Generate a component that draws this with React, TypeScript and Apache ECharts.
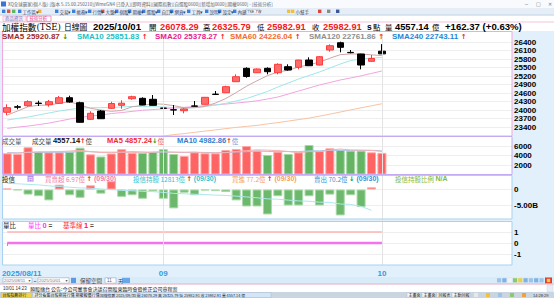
import React, { useEffect, useRef } from 'react';
import * as echarts from 'echarts';

// ---------------- data ----------------
const dates = [
  '2025/08/11', '2025/08/12', '2025/08/13', '2025/08/14', '2025/08/15',
  '2025/08/18', '2025/08/19', '2025/08/20', '2025/08/21', '2025/08/22',
  '2025/08/25', '2025/08/26', '2025/08/27', '2025/08/28', '2025/08/29',
  '2025/09/01', '2025/09/02', '2025/09/03', '2025/09/04', '2025/09/05',
  '2025/09/08', '2025/09/09', '2025/09/10', '2025/09/11', '2025/09/12',
  '2025/09/15', '2025/09/16', '2025/09/17', '2025/09/18', '2025/09/19',
  '2025/09/22', '2025/09/23', '2025/09/24', '2025/09/25', '2025/09/26',
  '2025/09/30', '2025/10/01',
];
const opens = [23926, 24120, 24158, 24250, 24193, 24242, 24439, 24263, 23679, 23971, 24066, 24172, 24404, 24418, 24383, 24075, 24015, 23982, 24150, 24207, 24565, 24615, 25003, 25474, 25319, 25474, 25319, 25531, 25509, 25766, 25590, 26118, 26375, 26035, 25978, 25720, 26078.29];
const highs = [24207, 24182, 24348, 24335, 24359, 24499, 24510, 24299, 23961, 24006, 24299, 24348, 24510, 24453, 24534, 24277, 24182, 24066, 24323, 24465, 24675, 24862, 25263, 25509, 25470, 25509, 25650, 25615, 25770, 25861, 25905, 26319, 26411, 26118, 25985, 25942, 26325.79];
const lows = [23820, 24031, 24123, 24147, 24123, 24218, 24263, 23560, 23654, 23690, 24042, 24052, 24369, 24172, 24165, 23830, 23830, 23890, 24123, 24200, 24534, 24610, 25000, 25143, 25310, 25263, 25263, 25390, 25439, 25555, 25575, 26059, 26037, 26002, 25439, 25707, 25982.91];
const closes = [24088, 24105, 24299, 24235, 24299, 24439, 24288, 23574, 23890, 23700, 24235, 24245, 24475, 24185, 24170, 24066, 24006, 24042, 24140, 24453, 24555, 24827, 25179, 25185, 25450, 25355, 25615, 25414, 25766, 25566, 25883, 26270, 26213, 26025, 25590, 25820.54, 25982.91];

const sma5 = [23830, 23971, 24123, 24172, 24182, 24242, 24299, 24182, 24066, 24006, 23960, 23990, 24120, 24170, 24230, 24210, 24160, 24090, 24085, 24135, 24250, 24410, 24620, 24845, 25035, 25215, 25345, 25405, 25520, 25600, 25690, 25830, 25955, 25980, 25975, 25950, 25920.87];
const sma10 = [23654, 23707, 23760, 23830, 23901, 23971, 24024, 24077, 24088, 24088, 24094, 24112, 24130, 24130, 24123, 24112, 24094, 24066, 24094, 24123, 24182, 24242, 24323, 24411, 24534, 24658, 24816, 24957, 25098, 25221, 25344, 25485, 25626, 25749, 25802, 25837, 25851.83];
const sma20 = [23358, 23404, 23440, 23492, 23545, 23616, 23687, 23747, 23792, 23828, 23881, 23916, 23958, 23997, 24022, 24050, 24075, 24100, 24128, 24160, 24188, 24216, 24251, 24287, 24329, 24393, 24463, 24569, 24675, 24781, 24887, 24975, 25063, 25134, 25210, 25295, 25378.27];
const sma60 = [22460, 22500, 22545, 22590, 22630, 22675, 22720, 22760, 22800, 22840, 22880, 22925, 22965, 23005, 23045, 23087, 23140, 23175, 23221, 23263, 23305, 23351, 23394, 23429, 23464, 23517, 23563, 23616, 23669, 23722, 23790, 23860, 23935, 24010, 24085, 24155, 24226.04];
const sma120Last = 22761.86;
const sma240Last = 22743.11;

const volumes = [4463, 4315, 5726, 4799, 4673, 4673, 4799, 5641, 4252, 3789, 4420, 5326, 4526, 4568, 4736, 5326, 4315, 3894, 4673, 4463, 4463, 5157, 5368, 5999, 5010, 4105, 4799, 4315, 4673, 6210, 4947, 5515, 5157, 5010, 5010, 4673, 4557.14];
const volMa5 = [4520, 4480, 4700, 4760, 4790, 4830, 4930, 5100, 4810, 4630, 4590, 4700, 4660, 4530, 4720, 4790, 4690, 4670, 4700, 4540, 4560, 4590, 4830, 5030, 5190, 5120, 5050, 4840, 4580, 4820, 4790, 5130, 5360, 5170, 5130, 5060, 4857.24];
const volMa10 = [4600, 4560, 4620, 4650, 4680, 4700, 4710, 4830, 4800, 4710, 4710, 4700, 4810, 4750, 4680, 4700, 4700, 4650, 4690, 4640, 4580, 4640, 4740, 4790, 4960, 4850, 4820, 4840, 4810, 5000, 4990, 5090, 5100, 5070, 5070, 5090, 4982.86];

// investment trust net buy/sell (億) and holdings (億)
const trustNet = [3, -2, -16, -21, -34, 15, -18, -26, 13, -13, 26, -23, -18, -29, -6, -29, -59, -10, -18, -3, -5, -8, -34, -53, -53, -78, -21, -50, -50, -21, -50, -16, -81, -18, -55, 6.97, null];
const trustHold = [13207, 13200, 13192, 13184, 13170, 13160, 13150, 13140, 13135, 13125, 13115, 13105, 13098, 13090, 13085, 13075, 13060, 13055, 13048, 13042, 13035, 13030, 13020, 13008, 12996, 12980, 12975, 12962, 12950, 12945, 12932, 12928, 12905, 12900, 12870, 12813, null];

const volRatio = [0, 0, 0, 0, 0, 0, 0, 0, 0, 0, 0, 0, 0, 0, 0, 0, 0, 0, 0, 0, 0, 0, 0, 0, 0, 0, 0, 0, 0, 0, 0, 0, 0, 0, 0, 0, 0];
const baseLine = [1, 1, 1, 1, 1, 1, 1, 1, 1, 1, 1, 1, 1, 1, 1, 1, 1, 1, 1, 1, 1, 1, 1, 1, 1, 1, 1, 1, 1, 1, 1, 1, 1, 1, 1, 1, 1];

const priceTicks = [23400, 23700, 24000, 24300, 24600, 24900, 25200, 25500, 25800, 26100, 26400];
const volTicks = [2000, 4000, 6000];
const PAD_SLOTS = 12;

// ---------------- styling helpers ----------------
const CJK = "'Noto Sans CJK TC','Noto Sans CJK SC',sans-serif";
const LAT = "'Liberation Sans',Arial,sans-serif";
const ARW = "'DejaVu Sans',sans-serif";
const RED = '#f21b1b';
const GREEN = '#139a13';

function txt(x: number, y: number, text: string, fill: string, size: number, o: any = {}) {
  return {
    type: 'text', x, y, z: 50, silent: true,
    style: {
      text, fill, fontSize: size, fontFamily: o.family || CJK,
      fontWeight: o.bold ? 'bold' : 'normal', align: o.align || 'left', verticalAlign: 'middle',
      rich: o.rich,
    },
  };
}
function rect(x: number, y: number, w: number, h: number, fill: string | null, stroke: string | null = null, z = -5, lw = 1) {
  return {
    type: 'rect', z, silent: true,
    shape: { x, y, width: w, height: h },
    style: { fill: fill || 'none', stroke: stroke || 'none', lineWidth: lw },
  };
}
function hline(x1: number, x2: number, y: number, color: string, z = 45) {
  return { type: 'line', z, silent: true, shape: { x1, y1: y, x2, y2: y }, style: { stroke: color, lineWidth: 1 } };
}
const tok = (fill: string, size: number, bold = false, family = LAT) => ({ fill, fontSize: size, fontWeight: bold ? 'bold' : 'normal', fontFamily: family });

function buildOption() {
  const n = dates.length;
  const last = n - 1;
  const cats = [...dates, ...Array.from({ length: PAD_SLOTS }, (_, k) => `_pad${k + 1}`)];
  const monthStarts = dates
    .map((d, i) => (i === 0 || d.slice(5, 7) !== dates[i - 1].slice(5, 7) ? i : -1))
    .filter((i) => i >= 0);
  const isMonthStart = (i: number) => monthStarts.indexOf(i) >= 0;
  const monthLines = monthStarts.slice(1).map((i) => ({ xAxis: dates[i] }));
  const markLine = {
    silent: true, symbol: 'none', label: { show: false }, animation: false,
    lineStyle: { color: '#e3e3e3', type: 'solid', width: 1 }, data: monthLines,
  };

  const grids = [
    { left: 2, right: 42, top: 33.5, height: 102.25 },
    { left: 2, right: 42, top: 136.5, height: 38 },
    { left: 2, right: 42, top: 173.5, height: 48 },
    { left: 2, right: 42, top: 221, height: 44 },
  ].map((g) => ({ ...g, outerBoundsMode: 'none', containLabel: false, show: false }));

  const xAxis = grids.map((_, gi) => {
    const show = gi === 3;
    return {
      type: 'category', gridIndex: gi, data: cats, boundaryGap: true,
      axisLine: { show: false },
      axisTick: { show, interval: (i: number) => isMonthStart(i), alignWithLabel: true, length: 3, lineStyle: { color: '#6aaee6' } },
      axisLabel: {
        show, interval: (i: number) => isMonthStart(i), margin: 4,
        color: '#3a98e2', fontWeight: 'bold', fontSize: 8, fontFamily: LAT,
        formatter: (v: string, i: number) => (i === 0 ? `{f|${v}}` : v.slice(5, 7)),
        rich: { f: { padding: [0, 0, 0, 29], color: '#3a98e2', fontWeight: 'bold', fontSize: 8, fontFamily: LAT } },
      },
      splitLine: { show: false },
    };
  });

  const labelStyle = { color: '#000', fontWeight: 'bold', fontSize: 8, fontFamily: LAT, margin: 2 };
  const faint = '#eeeeee';
  const clear = 'rgba(0,0,0,0)';

  const yAxis = [
    {
      type: 'value', gridIndex: 0, position: 'right', min: 23100, max: 26700, interval: 300,
      axisLine: { show: false }, axisTick: { show: false },
      axisLabel: { ...labelStyle, padding: [4, 0, 0, 0], formatter: (v: number) => (priceTicks.indexOf(v) >= 0 ? String(v) : '') },
      splitLine: { show: true, lineStyle: { width: 1, color: [clear, ...priceTicks.map(() => faint), clear] } },
    },
    {
      type: 'value', gridIndex: 1, position: 'right', min: 0, max: 8000, interval: 2000,
      axisLine: { show: false }, axisTick: { show: false },
      axisLabel: { ...labelStyle, formatter: (v: number) => (volTicks.indexOf(v) >= 0 ? String(v) : '') },
      splitLine: { show: true, lineStyle: { width: 1, color: [clear, faint, faint, faint, clear] } },
    },
    {
      type: 'value', gridIndex: 2, position: 'right', min: -100, max: 50, interval: 50,
      axisLine: { show: false }, axisTick: { show: false },
      axisLabel: { ...labelStyle, formatter: (v: number) => (v === 0 ? '0' : v === -50 ? '-5.00B' : '') },
      splitLine: { show: true, lineStyle: { width: 1, color: [clear, faint, faint, clear] } },
    },
    { type: 'value', gridIndex: 2, min: 12650, max: 13350, show: false, splitLine: { show: false } },
    {
      type: 'value', gridIndex: 3, position: 'right', min: -2, max: 2, interval: 1,
      axisLine: { show: false }, axisTick: { show: false },
      axisLabel: { ...labelStyle, formatter: (v: number) => (Math.abs(v) <= 1 ? String(v) : '') },
      splitLine: { show: true, lineStyle: { width: 1, color: [clear, faint, faint, faint, clear] } },
    },
  ];

  const lineS = (name: string, data: any[], color: string, xi: number, yi: number, width = 1) => ({
    name, type: 'line', xAxisIndex: xi, yAxisIndex: yi, data, showSymbol: false, symbol: 'none',
    clip: true, silent: true, lineStyle: { color, width }, z: 3,
  });

  const volData = volumes.map((v, i) => {
    const upDay = i === 0 || closes[i] >= closes[i - 1];
    return {
      value: v,
      itemStyle: upDay ? { color: '#ff6464', borderColor: '#ffa8a8', borderWidth: 1 } : { color: '#64b464', borderColor: '#a6d8a6', borderWidth: 1 },
    };
  });
  const trustData = trustNet.map((v) => (v === null ? null : {
    value: v,
    itemStyle: v >= 0 ? { color: '#ff6464', borderColor: '#ffa8a8', borderWidth: 1 } : { color: '#6cb86c', borderColor: '#a8d8a8', borderWidth: 1 },
  }));

  const series: any[] = [
    {
      name: 'K', type: 'candlestick', xAxisIndex: 0, yAxisIndex: 0, barWidth: 7, silent: true, z: 4,
      data: dates.map((_, i) => [opens[i], closes[i], lows[i], highs[i]]),
      itemStyle: { color: '#ff6b6b', color0: '#000000', borderColor: '#ff3a3a', borderColor0: '#000000', borderWidth: 1 },
      markLine,
    },
    lineS('SMA60', sma60, '#f8c2a2', 0, 0),
    lineS('SMA20', sma20, '#f2a4e0', 0, 0),
    lineS('SMA10', sma10, '#9fe6e8', 0, 0),
    lineS('SMA5', sma5, '#cfa5a5', 0, 0),
    { name: 'VOL', type: 'bar', xAxisIndex: 1, yAxisIndex: 1, data: volData, barWidth: 9, silent: true, markLine },
    lineS('VMA10', volMa10, '#a6c6ea', 1, 1),
    lineS('VMA5', volMa5, '#f6b0b0', 1, 1),
    { name: 'TRUST', type: 'bar', xAxisIndex: 2, yAxisIndex: 2, data: trustData, barWidth: 9, silent: true, markLine },
    lineS('HOLD', trustHold, '#aee8ec', 2, 3),
    { ...lineS('BASE', baseLine, '#ffb4b4', 3, 4, 1.5), markLine },
    lineS('RATIO', volRatio, '#f572ee', 3, 4, 2.5),
  ];

  // ---------------- graphic chrome & texts ----------------
  const g: any[] = [];
  // backgrounds
  g.push(rect(0, 0, 554, 298, '#e2f0fb', null, -10));
  g.push(rect(0, 0, 554, 8, '#f8fafd', null, -9));
  g.push(rect(0, 8, 554, 7, '#e5edf7', null, -9));
  g.push(hline(0, 554, 15, '#c6d4e6', -8));
  g.push(rect(0, 15.5, 554, 6.5, '#ffffff', null, -9));
  g.push(rect(0, 22, 554, 9, '#ffffff', null, -9));
  g.push(hline(0, 554, 22, '#f3c3de', -8));
  g.push(rect(2, 31, 510, 105, '#ffffff', null, -9));
  g.push(rect(2, 136, 510, 38.5, '#ffffff', null, -9));
  g.push(rect(2, 175, 510, 44, '#ffffff', null, -9));
  g.push(rect(2, 221, 510, 44, '#ffffff', null, -9));
  // panel frames
  g.push(rect(2.5, 31.5, 509.5, 104.5, null, '#f2a8df', 45));
  g.push(rect(2.5, 136.5, 509.5, 38, null, '#c4aaf2', 45));
  g.push(rect(2.5, 175.5, 509.5, 43.5, null, '#a8d2ef', 45));
  g.push(rect(2.5, 221.5, 509.5, 43.5, null, '#a8d2ef', 45));

  // title bar
  g.push(rect(1, 1.5, 5, 5, '#3b74d3', null, 40));
  g.push(txt(8, 4, 'XQ全球贏家(個人版) [版本 5.15.00.250210][WrneGN4 已登入][即時資料][國際指數][自選股0600][新增加0600][期權0600] - [技術分析]', '#666', 4.5));
  g.push(txt(525, 4, '─', '#777', 5, { family: ARW }));
  g.push(txt(536, 4, '□', '#777', 5, { family: ARW }));
  g.push(txt(548, 4, '✕', '#777', 5, { family: ARW }));

  // toolbar
  const toolItems: [number, string, string][] = [
    [2, '', '#3f7fd6'], [7, '', '#d9534f'], [12, '', '#5cb85c'], [18, '工作區▾', '#3f7fd6'], [38, '', '#f0ad4e'],
    [55, '交易▾', '#3f7fd6'], [72, '帳務▾', '#3f7fd6'], [88, '行情▾', '#3f7fd6'], [101, '大盤▾', '#d9534f'],
    [115, '個股▾', '#3f7fd6'], [128, '期權▾', '#3f7fd6'], [142, '選股▾', '#3f7fd6'], [157, '自訂▾', '#3f7fd6'],
    [170, '網頁▾', '#3f7fd6'], [187, '工具▾', '#3f7fd6'], [205, '說明▾', '#3f7fd6'], [218, '設定▾', '#3f7fd6'],
    [233, '內建', '#3f7fd6'], [287, '', '#f0c040'], [291, '小幫手', '#f0c040'], [318, '', '#e04040'],
    [327, '', '#8a8a8a'], [336, '', '#3b5998'],
  ];
  toolItems.forEach(([x, label, c]) => {
    g.push(rect(x, 9.6, 3.4, 3.4, c, null, 40));
    if (label) g.push(txt(x + 4.5, 11.6, label, '#334466', 4.5));
  });
  g.push(rect(246, 9.3, 14, 4.8, '#ffffff', '#9fb3c8', 40, 0.6));
  g.push(txt(247, 11.7, 'TSE.TW', '#333', 3.8, { family: LAT }));

  // tabs
  g.push(rect(3, 16, 23, 5.4, '#fdeef5', '#f2b6d2', 40, 0.8));
  g.push(txt(5, 18.1, '商品資訊', '#5a7ac8', 4.4));
  g.push(rect(27, 16, 24, 5.4, '#ffffff', '#ee7eb2', 40, 0.8));
  g.push(txt(29.5, 18.1, '技術分析', '#e6417f', 4.4));

  // header row
  const hy = 26.8;
  const cs = 7.4;
  const ds = 9.3;
  const nb = (v: number) => v.toFixed(2);
  const change = closes[last] - closes[last - 1];
  const pct = (change / closes[last - 1]) * 100;
  g.push(txt(2, hy, `{c|加權指數}{l|(TSE)}`, '#000', cs, {
    rich: { c: tok('#000', 8.6, false, CJK), l: tok('#000', 8.6, false, "'DejaVu Serif',serif") },
  }));
  g.push(txt(64, hy, '日線圖', '#000', 7.8));
  g.push(txt(93, hy, dates[last], '#000', 9.6, { bold: true, family: LAT }));
  g.push(txt(149, hy, '開', '#000', cs));
  g.push(txt(160, hy, nb(opens[last]), RED, ds, { bold: true, family: LAT }));
  g.push(txt(203, hy, '高', '#000', cs));
  g.push(txt(212, hy, nb(highs[last]), RED, ds, { bold: true, family: LAT }));
  g.push(txt(257, hy, '低', '#000', cs));
  g.push(txt(267, hy, nb(lows[last]), RED, ds, { bold: true, family: LAT }));
  g.push(txt(312, hy, '收', '#000', cs));
  g.push(txt(323, hy, nb(closes[last]), RED, ds, { bold: true, family: LAT }));
  g.push(txt(367, hy, 's', '#000', 8.5, { bold: true, family: LAT }));
  g.push(txt(373, hy, '點', '#000', cs));
  g.push(txt(385, hy, '量', '#000', cs));
  g.push(txt(395, hy, nb(volumes[last]), '#000', ds, { bold: true, family: LAT }));
  g.push(txt(432, hy, '億', '#000', cs));
  g.push(txt(445, hy, `+${change.toFixed(2)} (+${pct.toFixed(2)}%)`, '#000', 9.6, { bold: true, family: LAT }));

  // SMA legend row
  const smaLegend: [number, string, number, string, boolean][] = [
    [2, 'SMA5', sma5[last], '#9c2a2a', false],
    [77, 'SMA10', sma10[last], '#18c2c4', true],
    [155, 'SMA20', sma20[last], '#e6208f', true],
    [230, 'SMA60', sma60[last], '#f36b2d', true],
    [309, 'SMA120', sma120Last, '#8e8e8e', true],
    [392, 'SMA240', sma240Last, '#1f86d6', true],
  ];
  smaLegend.forEach(([x, name, v, c, upArrow]) => {
    g.push(txt(x, 36.9, `{t|${name} ${nb(v)}}{a| ${upArrow ? '↑' : '↓'}}`, c, 8, {
      rich: { t: tok(c, 8, true), a: tok(upArrow ? RED : GREEN, 7, true, ARW) },
    }));
  });

  // volume title row
  const vy = 140.6;
  g.push(txt(2, vy, '成交量', '#555', 6.5));
  g.push(txt(32, vy, `{l|成交量 }{v|${nb(volumes[last])}}{a|↑}{l|億}`, '#000', 7, {
    rich: { l: tok('#444', 6.5, false, CJK), v: tok('#111', 7.5, true), a: tok(RED, 6.5, true, ARW) },
  }));
  g.push(txt(107, vy, `{m|MA5 ${nb(volMa5[last])}}{a|↓}{l|億}`, RED, 7, {
    rich: { m: tok('#f42a2a', 7.5, true), a: tok(GREEN, 6.5, true, ARW), l: tok('#f06060', 6.5, false, CJK) },
  }));
  g.push(txt(177, vy, `{m|MA10 ${nb(volMa10[last])}}{a|↑}{l|億}`, '#2f7fcf', 7, {
    rich: { m: tok('#2f7fcf', 7.5, true), a: tok(RED, 6.5, true, ARW), l: tok('#6a9fd8', 6.5, false, CJK) },
  }));

  // trust title row
  const ty = 178.6;
  const trustLast = trustNet[last - 1] as number;
  const holdLast = trustHold[last - 1] as number;
  const trustDate = dates[last - 1].slice(5);
  g.push(txt(2, ty, '投信', '#222', 6.5));
  g.push(rect(27.5, 175.4, 6, 6.4, '#b890ea', null, 48));
  g.push(txt(30.5, ty, '日', '#ffffff', 5, { align: 'center' }));
  const trustItem = (x: number, label: string, c: string, upArrow: boolean | null, tail: string) => {
    const arrow = upArrow === null ? '' : `{a|${upArrow ? '↑' : '↓'}}`;
    g.push(txt(x, ty, `{l|${label}}${arrow}{b|${tail}}`, c, 6.5, {
      rich: { l: tok(c, 6.5, false, CJK), a: tok(upArrow ? RED : GREEN, 6.5, true, ARW), b: tok(c, 7, true) },
    }));
  };
  trustItem(45, `買賣超 ${trustLast.toFixed(2)}億 `, '#f27ca6', true, ` (${trustDate})`);
  trustItem(133, `投信持股 ${holdLast}億 `, '#35c2cc', true, ` (${trustDate})`);
  trustItem(232, '買進 77.2億 ', '#f5a25c', true, ` (${trustDate})`);
  trustItem(314, '賣出 70.2億 ', '#3d8fd3', false, ` (${trustDate})`);
  trustItem(395, '投信持股比例 ', '#84b83e', null, 'N/A');

  // volume ratio title row
  const ry = 225.2;
  g.push(txt(3, ry, '量比', '#222', 6.5));
  g.push(txt(28, ry, `{l|量比 }{b|${volRatio[last]}}{c| =}`, '#ff33ff', 6.5, {
    rich: { l: tok('#ff33ff', 6.5, false, CJK), b: tok('#ff33ff', 7.5, true), c: tok('#555', 6.5, true) },
  }));
  g.push(txt(63, ry, `{l|基準線 }{b|${baseLine[last]}}{c| =}`, '#ff3030', 6.5, {
    rich: { l: tok('#ff3030', 6.5, false, CJK), b: tok('#ff2020', 7.5, true), c: tok('#555', 6.5, true) },
  }));

  // date control row
  g.push(rect(0, 277, 554, 7, '#d8ebf9', null, -8));
  g.push(rect(3, 277.8, 29, 5.4, '#ffffff', '#9aaabb', 40, 0.6));
  g.push(txt(4, 280.5, '2025/08/11', '#777', 4.3, { family: LAT }));
  g.push(txt(28.5, 280.5, '▾', '#555', 4, { family: ARW }));
  g.push(txt(33.5, 280.5, '~', '#333', 5, { family: LAT }));
  g.push(rect(38, 277.8, 31, 5.4, '#ffffff', '#9aaabb', 40, 0.6));
  g.push(txt(39, 280.5, '2025/10/01', '#777', 4.3, { family: LAT }));
  g.push(txt(65.5, 280.5, '▾', '#555', 4, { family: ARW }));
  g.push(rect(71, 277.8, 5, 5.4, '#5b9be0', null, 40));
  g.push(txt(80, 280.5, '保留空間', '#444', 5.5));
  g.push(rect(105, 277.8, 11, 5.4, '#ffffff', '#9aaabb', 40, 0.6));
  g.push(txt(107, 280.5, '11', '#666', 4.5, { family: LAT }));
  g.push(txt(118, 280.5, '天', '#444', 5));
  g.push(rect(122, 277.8, 8, 5.4, '#6aa7e6', null, 40));
  const iconColors = ['#9cc4ea', '#7fb2e4', '#f2f2f2', '#8fc86a', '#f0d040', '#7fb2e4', '#9cc4ea', '#7fb2e4', '#9cc4ea'];
  iconColors.forEach((c, k) => g.push(rect(497 + k * 5.3, 278.2, 4.2, 4.2, c, null, 40)));
  g.push(rect(545, 277.5, 7, 6, '#e03a30', null, 40));
  g.push(rect(546.8, 278.8, 3.4, 3.4, '#f8d040', null, 41));
  g.push(hline(0, 554, 284, '#f3afc2', 45));

  // status row
  g.push(rect(0, 284.5, 554, 7.5, '#ffffff', null, -8));
  g.push(txt(3, 288.2, '10/01 14:23', '#333', 4.5, { family: LAT }));
  g.push(txt(30, 288.2, '類股擂台 公告:今公司董事會決議召開股東臨時會暨修正公司章程案', '#222', 5));
  g.push(rect(547, 285, 6, 6.5, '#e6edf6', '#c8d4e2', 40, 0.5));

  // taskbar
  g.push(rect(0, 292, 554, 6, '#cad5e2', null, -8));
  const tabs: [number, number, string, string][] = [
    [1, 31, '台股指數排行', '#f3d34a'], [33, 15, '評分看盤', '#eef2f7'], [49, 24, '台股期貨行情', '#eef2f7'],
    [74, 24, '期權報價行情', '#eef2f7'],
  ];
  tabs.forEach(([x, w, label, c]) => {
    g.push(rect(x, 292.5, w, 5, c, '#9fb0c4', 40, 0.4));
    g.push(txt(x + 1.5, 295.1, label, '#222', 4));
  });
  g.push(rect(99, 292.5, 172, 5, '#d4e5f7', '#9fb0c4', 40, 0.4));
  g.push(txt(100, 295.1, `加權指數 ${dates[last - 1]} 開 ${nb(opens[last])} 高 ${nb(highs[last])} 低 ${nb(lows[last])} 收 ${nb(closes[last])} 量 ${nb(volumes[last])} 億`, '#234', 3.8));
  const rightBtns: [number, number, string][] = [[407, 14, '主畫面'], [422, 14, '主畫面'], [437, 14, '回報表'], [452, 18, '主動回報']];
  rightBtns.forEach(([x, w, label]) => {
    g.push(rect(x, 292.5, w, 5, '#f3f3f3', '#9fb0c4', 40, 0.4));
    g.push(txt(x + 1.5, 295.1, label, '#222', 4));
  });
  ['#e8e8e8', '#f0c040', '#9cc4ea', '#8fc86a', '#f0a040'].forEach((c, k) => g.push(rect(474 + k * 12, 293, 4, 4, c, null, 40)));
  g.push(txt(533, 295.1, '14:28:29', '#333', 4, { family: LAT }));

  return {
    animation: false,
    backgroundColor: '#e2f0fb',
    grid: grids,
    xAxis,
    yAxis,
    series,
    graphic: { elements: g },
  };
}

export default function App() {
  const ref = useRef<HTMLDivElement>(null);
  useEffect(() => {
    document.body.style.margin = '0';
    const chart = echarts.init(ref.current as HTMLDivElement, null, { renderer: 'svg', width: 554, height: 298 });
    chart.setOption(buildOption() as any);
    return () => chart.dispose();
  }, []);
  return <div ref={ref} style={{ position: 'absolute', left: 0, top: 0, width: 554, height: 298 }} />;
}
